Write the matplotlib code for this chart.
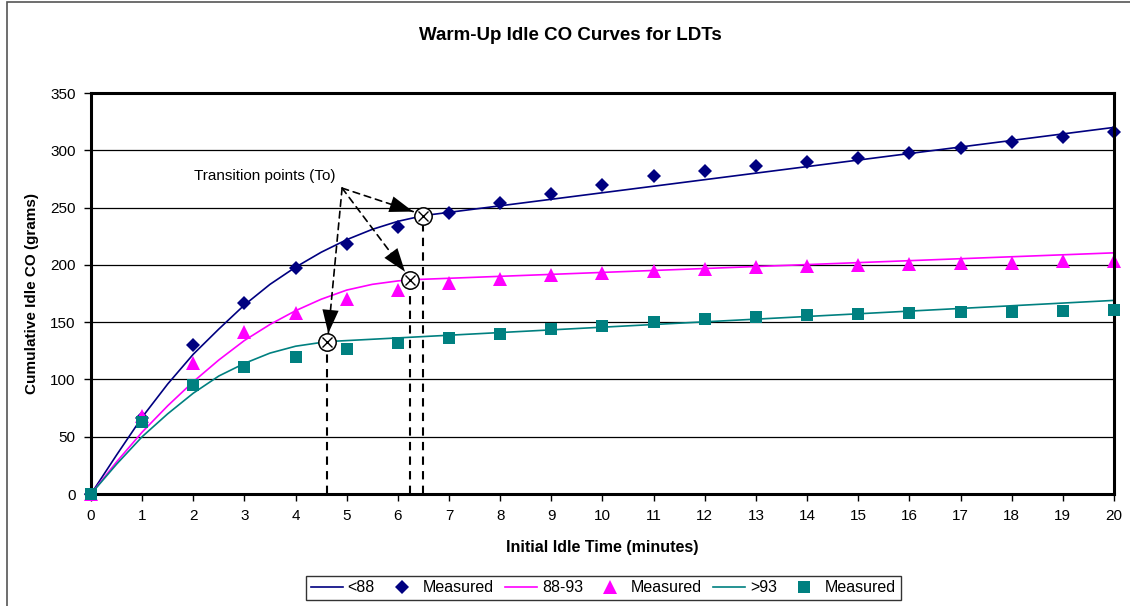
import numpy as np
import matplotlib.pyplot as plt
from matplotlib.patches import Rectangle

plt.rcParams['font.family'] = ['Liberation Sans', 'DejaVu Sans']

# measured points, one per minute
minutes = list(range(0, 21))
meas_lt88 = [0, 66, 130, 167, 197, 218, 233, 245, 254, 262, 270, 278, 282,
             286, 290, 293, 298, 302, 307, 312, 316]
meas_88_93 = [0, 68, 114, 141, 158, 170, 178, 184, 188, 191, 193, 195, 196.5,
              198, 199, 200, 201, 201.5, 202, 203, 203.5]
meas_gt93 = [0, 63, 95, 111, 120, 126.5, 131.5, 136, 140, 144, 147, 150, 152.5,
             154.5, 156.5, 157.5, 158, 158.5, 159, 160, 161]

# fitted curves (warm-up part, then the straight part)
t_lt88 = [0, 0.5, 1, 1.5, 2, 2.5, 3, 3.5, 4, 4.5, 5, 5.5, 6, 6.5, 20]
c_lt88 = [0, 34, 67, 96, 122, 144, 165, 183, 198, 211, 222, 231, 238, 243, 320]
t_88_93 = [0, 0.5, 1, 1.5, 2, 2.5, 3, 3.5, 4, 4.5, 5, 5.5, 6, 6.24, 20]
c_88_93 = [0, 28, 54, 77, 98, 117, 134, 148, 160, 170, 178, 183, 186, 187, 210.5]
t_gt93 = [0, 0.5, 1, 1.5, 2, 2.5, 3, 3.5, 4, 4.61, 20]
c_gt93 = [0, 26, 50, 70, 88, 103, 114, 123, 129, 133, 169]

# transition points (To)
to_x = [6.5, 6.24, 4.61]
to_y = [243, 187, 133]

navy = '#000080'
magenta = '#FF00FF'
teal = '#008080'

fig = plt.figure(figsize=(11.3, 6.06), dpi=100)
ax = fig.add_axes([0.0805, 0.1848, 0.9053, 0.6617])

# outer frame of the chart
fig.patches.append(Rectangle((7 / 1130, -0.1), 1.2, 1.1 - 2 / 606, transform=fig.transFigure,
                             fill=False, edgecolor='#555555', linewidth=1.2))

l1, = ax.plot(t_lt88, c_lt88, color=navy, lw=1.2, label='<88')
m1, = ax.plot(minutes, meas_lt88, 'D', color=navy, ms=7.5, mew=0, clip_on=False, label='Measured')
l2, = ax.plot(t_88_93, c_88_93, color=magenta, lw=1.2, label='88-93')
m2, = ax.plot(minutes, meas_88_93, '^', color=magenta, ms=10, mew=0, clip_on=False, label='Measured')
l3, = ax.plot(t_gt93, c_gt93, color=teal, lw=1.2, label='>93')
m3, = ax.plot(minutes, meas_gt93, 's', color=teal, ms=9.3, mew=0, clip_on=False, label='Measured', zorder=3)

# dashed drop lines and transition markers
for x, y in zip(to_x, to_y):
    ax.plot([x, x], [0, y], color='black', ls=(0, (4, 3)), lw=1.5, zorder=2)
ax.plot(to_x, to_y, 'o', ms=12.5, mfc='white', mec='black', mew=1.1, zorder=5)
ax.plot(to_x, to_y, 'x', ms=7.5, color='black', mew=1.0, zorder=6)

# annotation arrows: dashed shaft, solid head
apex = (4.91, 267)
tips = [(6.30, 246.5), (6.14, 194), (4.64, 140.2)]
for tip in tips:
    ax.annotate('', xy=tip, xytext=apex,
                arrowprops=dict(arrowstyle='-', color='black', lw=1.2, ls=(0, (4, 3)),
                                shrinkA=0, shrinkB=0), zorder=7)
    ax.annotate('', xy=tip, xytext=apex,
                arrowprops=dict(arrowstyle='-|>,head_length=1.3,head_width=0.45',
                                color='black', lw=0, mutation_scale=13,
                                shrinkA=0, shrinkB=0), zorder=7)
ax.text(3.40, 277.5, 'Transition points (To)', fontsize=11, ha='center', va='center')

ax.set_xlim(0, 20)
ax.set_ylim(0, 350)
ax.set_xticks(range(0, 21))
ax.set_yticks(range(0, 351, 50))
ax.yaxis.grid(True, color='black', lw=0.9)
ax.set_axisbelow(True)
for s in ax.spines.values():
    s.set_linewidth(2.2)
ax.tick_params(direction='out', length=5, width=1, labelsize=11, pad=6)

fig.text(0.505, 1 - 35 / 606, 'Warm-Up Idle CO Curves for LDTs', fontsize=13.5,
         fontweight='bold', ha='center', va='center')
ax.set_xlabel('Initial Idle Time (minutes)', fontsize=11.5, fontweight='bold', labelpad=12)
ax.set_ylabel('Cumulative Idle CO (grams)', fontsize=11, fontweight='bold', labelpad=8)

leg = fig.legend(handles=[l1, m1, l2, m2, l3, m3], loc='center', ncol=6,
                 bbox_to_anchor=(0.534, 0.030), frameon=True, fancybox=False,
                 edgecolor='black', fontsize=11.5, handlelength=2.0, columnspacing=0.7,
                 handletextpad=0.3, borderpad=0.3)
leg.get_frame().set_linewidth(1.0)

fig.savefig('out.png', dpi=100)
